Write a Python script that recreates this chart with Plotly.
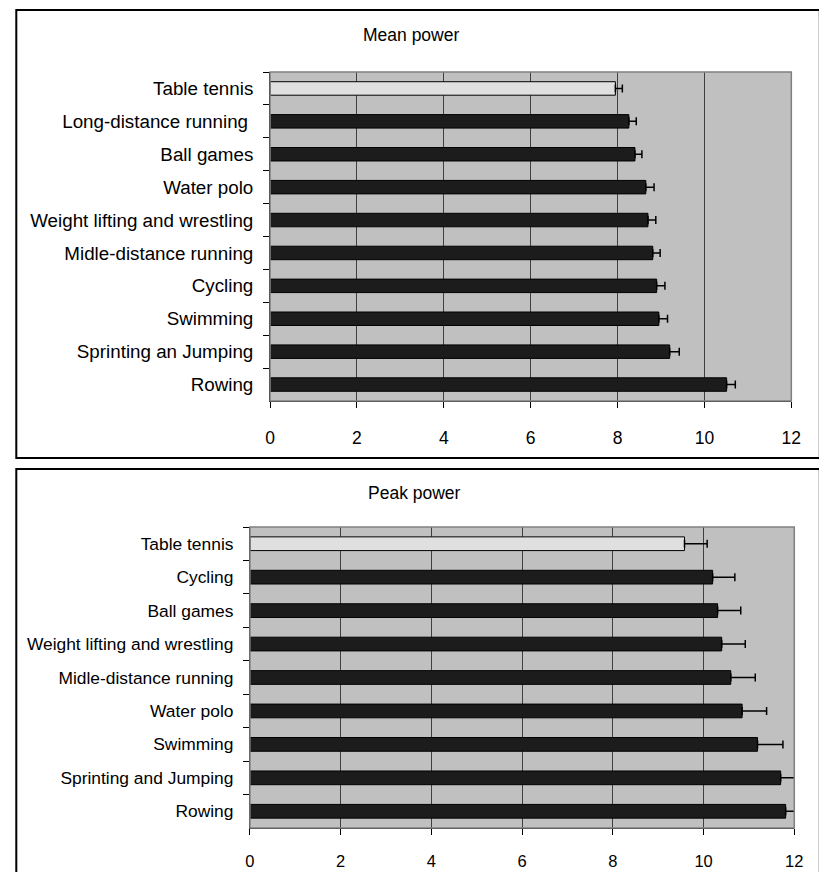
import plotly.graph_objects as go

W, H = 819, 872

# Mean power (W/kg), listed top to bottom
mean_sports = ["Table tennis", "Long-distance running\u00a0", "Ball games", "Water polo",
               "Weight lifting and wrestling", "Midle-distance running", "Cycling",
               "Swimming", "Sprinting an Jumping", "Rowing"]
mean_values = [7.95, 8.26, 8.40, 8.65, 8.70, 8.81, 8.90, 8.95, 9.20, 10.51]
mean_errors = [0.16, 0.17, 0.16, 0.19, 0.18, 0.17, 0.19, 0.20, 0.22, 0.20]

# Peak power (W/kg), listed top to bottom
peak_sports = ["Table tennis", "Cycling", "Ball games", "Weight lifting and wrestling",
               "Midle-distance running", "Water polo", "Swimming",
               "Sprinting and Jumping", "Rowing"]
peak_values = [9.58, 10.20, 10.31, 10.40, 10.60, 10.85, 11.19, 11.70, 11.81]
peak_errors = [0.50, 0.49, 0.51, 0.52, 0.54, 0.54, 0.56, 0.55, 0.55]

x_ticks = [0, 2, 4, 6, 8, 10, 12]

FONT = "Liberation Sans, Arial, sans-serif"
DARK = "#1c1c1c"
LIGHT = "#e0e0e0"


def px_x(p):
    return p / W


def px_y(p):
    return 1 - p / H


def bar_colors(names):
    return [LIGHT if n.startswith("Table tennis") else DARK for n in names]


fig = go.Figure()

fig.add_trace(go.Bar(
    x=mean_values, y=mean_sports, orientation="h",
    marker=dict(color=bar_colors(mean_sports), line=dict(color="black", width=1)),
    error_x=dict(type="data", array=mean_errors, arrayminus=[0] * len(mean_errors),
                 symmetric=False, color="black", thickness=1.5, width=4),
    xaxis="x", yaxis="y", showlegend=False,
))

fig.add_trace(go.Bar(
    x=peak_values, y=peak_sports, orientation="h",
    marker=dict(color=bar_colors(peak_sports), line=dict(color="black", width=1)),
    error_x=dict(type="data", array=peak_errors, arrayminus=[0] * len(peak_errors),
                 symmetric=False, color="black", thickness=1.5, width=4),
    xaxis="x2", yaxis="y2", showlegend=False,
))

common_x = dict(
    range=[0, 12], tickvals=x_ticks, ticktext=[str(v) for v in x_ticks],
    showgrid=True, gridcolor="#404040", gridwidth=1, zeroline=False,
    showline=True, linecolor="black", linewidth=1,
    ticks="outside", ticklen=6, tickcolor="black", tickwidth=1,
)
common_y = dict(
    type="category", showgrid=False, zeroline=False,
    showline=True, linecolor="black", linewidth=1,
    ticks="outside", ticklen=6, tickcolor="black", tickwidth=1,
    tickson="boundaries",
)

fig.update_layout(
    width=W, height=H,
    margin=dict(l=0, r=0, t=0, b=0),
    paper_bgcolor="white", plot_bgcolor="#c0c0c0",
    bargap=0.59,
    xaxis=dict(common_x, domain=[px_x(270), px_x(801)], anchor="y",
               tickfont=dict(family=FONT, size=17.5, color="black"),
               ticklabelstandoff=15),
    yaxis=dict(common_y, domain=[px_y(401), px_y(72)], anchor="x",
               categoryorder="array", categoryarray=mean_sports,
               range=[len(mean_sports) - 0.5, -0.5],
               tickfont=dict(family=FONT, size=18.8, color="black"),
               ticklabelstandoff=12),
    xaxis2=dict(common_x, domain=[px_x(249.5), px_x(804)], anchor="y2",
                tickfont=dict(family=FONT, size=16.5, color="black"),
                ticklabelstandoff=12),
    yaxis2=dict(common_y, domain=[px_y(828), px_y(527)], anchor="x2",
                categoryorder="array", categoryarray=peak_sports,
                range=[len(peak_sports) - 0.5, -0.5],
                tickfont=dict(family=FONT, size=17.4, color="black"),
                ticklabelstandoff=12),
)

# Plot-area borders (grey) on top and right
for xr, yr in (("x", "y"), ("x2", "y2")):
    fig.add_shape(type="rect", xref=f"{xr} domain", yref=f"{yr} domain",
                  x0=0, x1=1, y0=0, y1=1, line=dict(color="#808080", width=1.5),
                  layer="above")

# Outer frames around each chart
fig.add_shape(type="rect", xref="paper", yref="paper",
              x0=px_x(11.5), x1=px_x(830), y0=px_y(458), y1=px_y(10),
              line=dict(color="black", width=2))
fig.add_shape(type="rect", xref="paper", yref="paper",
              x0=px_x(11.5), x1=px_x(830), y0=px_y(885), y1=px_y(469),
              line=dict(color="black", width=2))

# Chart titles
fig.add_annotation(text="Mean power", xref="paper", yref="paper",
                   x=px_x(414), y=px_y(35), showarrow=False,
                   xanchor="center", yanchor="middle",
                   font=dict(family=FONT, size=17.5, color="black"))
fig.add_annotation(text="Peak power", xref="paper", yref="paper",
                   x=px_x(417), y=px_y(493), showarrow=False,
                   xanchor="center", yanchor="middle",
                   font=dict(family=FONT, size=17.5, color="black"))

fig.write_html("out.html")
